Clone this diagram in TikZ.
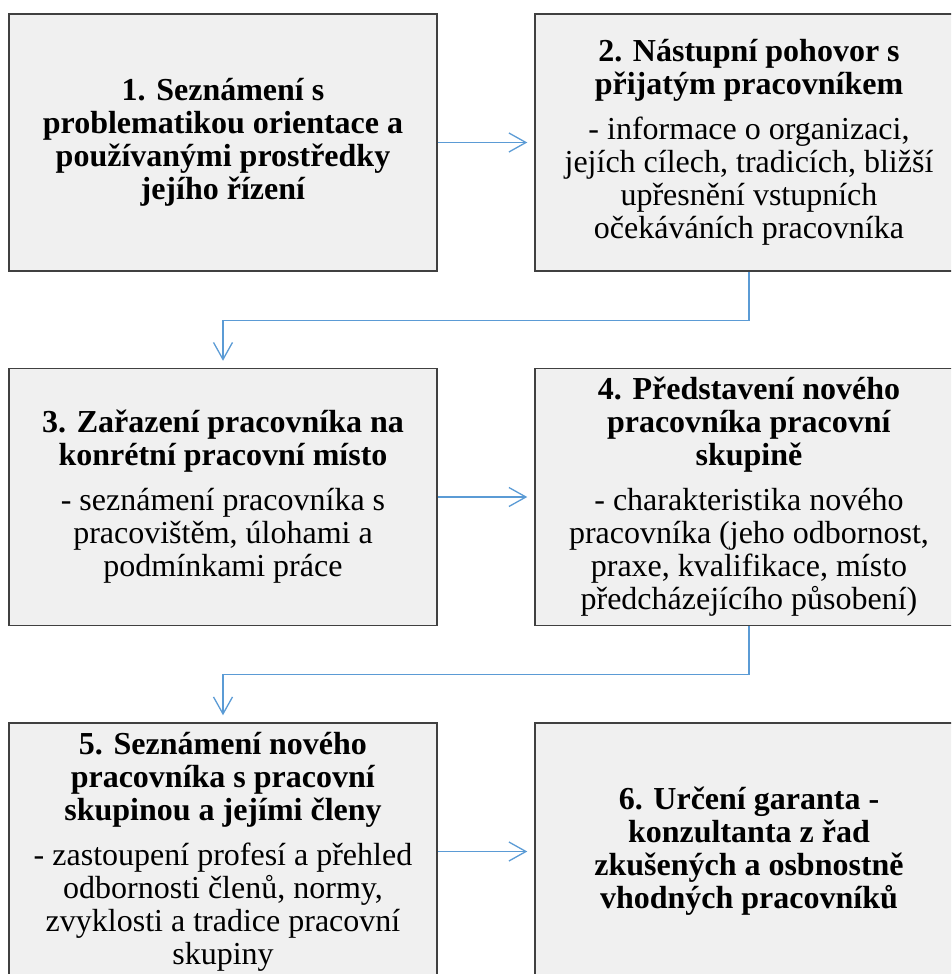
\documentclass[tikz,border=0pt]{standalone}
\usepackage{fontspec}
\setmainfont{Liberation Serif}
\usetikzlibrary{arrows.meta}
\definecolor{linkblue}{RGB}{91,155,213}

\begin{document}
\begin{tikzpicture}[x=1pt,y=-1pt,
  box/.style={draw=black!75,line width=1.5pt,fill=black!6,minimum width=428pt,minimum height=257pt,align=center,font=\fontsize{32}{33}\selectfont},
  link/.style={draw=linkblue,line width=1.3pt,-{Straight Barb[length=17pt,width=19pt]},shorten >=7pt}]
\useasboundingbox (0,0) rectangle (951,974);
\clip (0,0) rectangle (951,974);
\node[box] (b1) at (223,142.5) {\textbf{1. Seznámení s}\\\textbf{problematikou orientace a}\\\textbf{používanými prostředky}\\\textbf{jejího řízení}};
\node[box] (b2) at (749,142.5) {\textbf{2. Nástupní pohovor s}\\\textbf{přijatým pracovníkem}\\[12pt]- informace o organizaci,\\jejích cílech, tradicích, bližší\\upřesnění vstupních\\očekáváních pracovníka};
\node[box] (b3) at (223,497) {\textbf{3. Zařazení pracovníka na}\\\textbf{konrétní pracovní místo}\\[12pt]- seznámení pracovníka s\\pracovištěm, úlohami a\\podmínkami práce};
\node[box] (b4) at (749,497) {\textbf{4. Představení nového}\\\textbf{pracovníka pracovní}\\\textbf{skupině}\\[12pt]- charakteristika nového\\pracovníka (jeho odbornost,\\praxe, kvalifikace, místo\\předcházejícího působení)};
\node[box] (b5) at (223,851.5) {\textbf{5. Seznámení nového}\\\textbf{pracovníka s pracovní}\\\textbf{skupinou a jejími členy}\\[12pt]- zastoupení profesí a přehled\\odbornosti členů, normy,\\zvyklosti a tradice pracovní\\skupiny};
\node[box] (b6) at (749,851.5) {\textbf{6. Určení garanta -}\\\textbf{konzultanta z řad}\\\textbf{zkušených a osbnostně}\\\textbf{vhodných pracovníků}};
\draw[link] (b1) -- (b2);
\draw[link] (b3) -- (b4);
\draw[link] (b5) -- (b6);
\draw[link] (b2.south) -- ++(0,48.5) -| (b3.north);
\draw[link] (b4.south) -- ++(0,48.5) -| (b5.north);
\end{tikzpicture}
\end{document}
